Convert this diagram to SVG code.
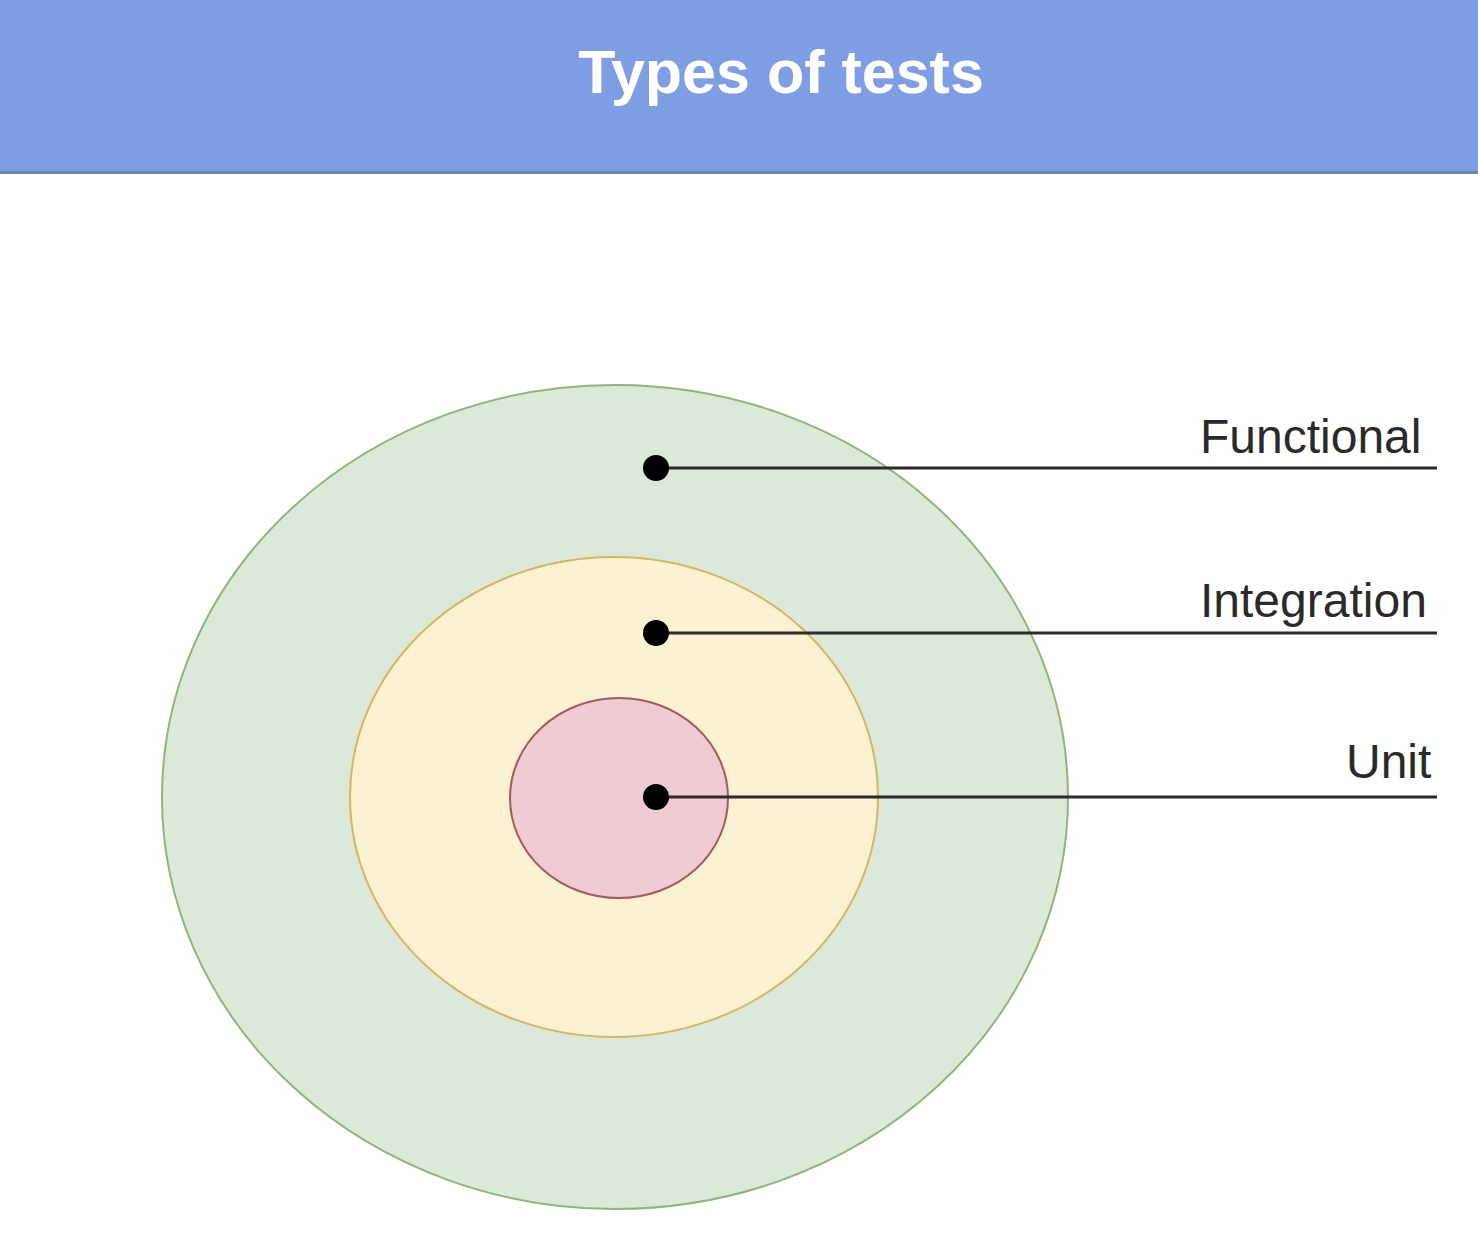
<svg xmlns="http://www.w3.org/2000/svg" width="1478" height="1250" viewBox="0 0 1478 1250">
<style>
.lbl{font-family:"Liberation Sans",Arial,sans-serif;font-size:48px;fill:#2a2a2a}
.ttl{font-family:"Liberation Sans",Arial,sans-serif;font-size:61px;font-weight:bold;fill:#ffffff}
.conn{stroke:#2b2b2b;stroke-width:3;fill:none}
.dot{fill:#000000}
</style>
<rect x="0" y="0" width="1478" height="1250" fill="#ffffff"/>
<g id="header">
<rect x="0" y="0" width="1478" height="172" fill="#7e9de2"/>
<rect x="0" y="171" width="1478" height="3" fill="#6b80ad"/>
<text class="ttl" x="781" y="93" text-anchor="middle">Types of tests</text>
</g>
<g id="functional">
<ellipse cx="615" cy="797" rx="453" ry="412" fill="#dce8d9" stroke="#8fb57a" stroke-width="2"/>
</g>
<g id="integration">
<ellipse cx="614" cy="797" rx="264" ry="240" fill="#fdf1d4" stroke="#d5b55e" stroke-width="2"/>
</g>
<g id="unit">
<ellipse cx="619" cy="798" rx="109" ry="100" fill="#efcbd3" stroke="#a4595c" stroke-width="2"/>
</g>
<g id="connectors">
<line class="conn" x1="656" y1="468" x2="1437" y2="468"/>
<line class="conn" x1="656" y1="633" x2="1437" y2="633"/>
<line class="conn" x1="656" y1="797" x2="1437" y2="797"/>
<circle class="dot" cx="656" cy="468" r="13"/>
<circle class="dot" cx="656" cy="633" r="13"/>
<circle class="dot" cx="656" cy="797" r="13"/>
</g>
<g id="labels">
<text class="lbl" x="1200" y="453">Functional</text>
<text class="lbl" x="1200" y="617">Integration</text>
<text class="lbl" x="1346" y="778">Unit</text>
</g>
</svg>
